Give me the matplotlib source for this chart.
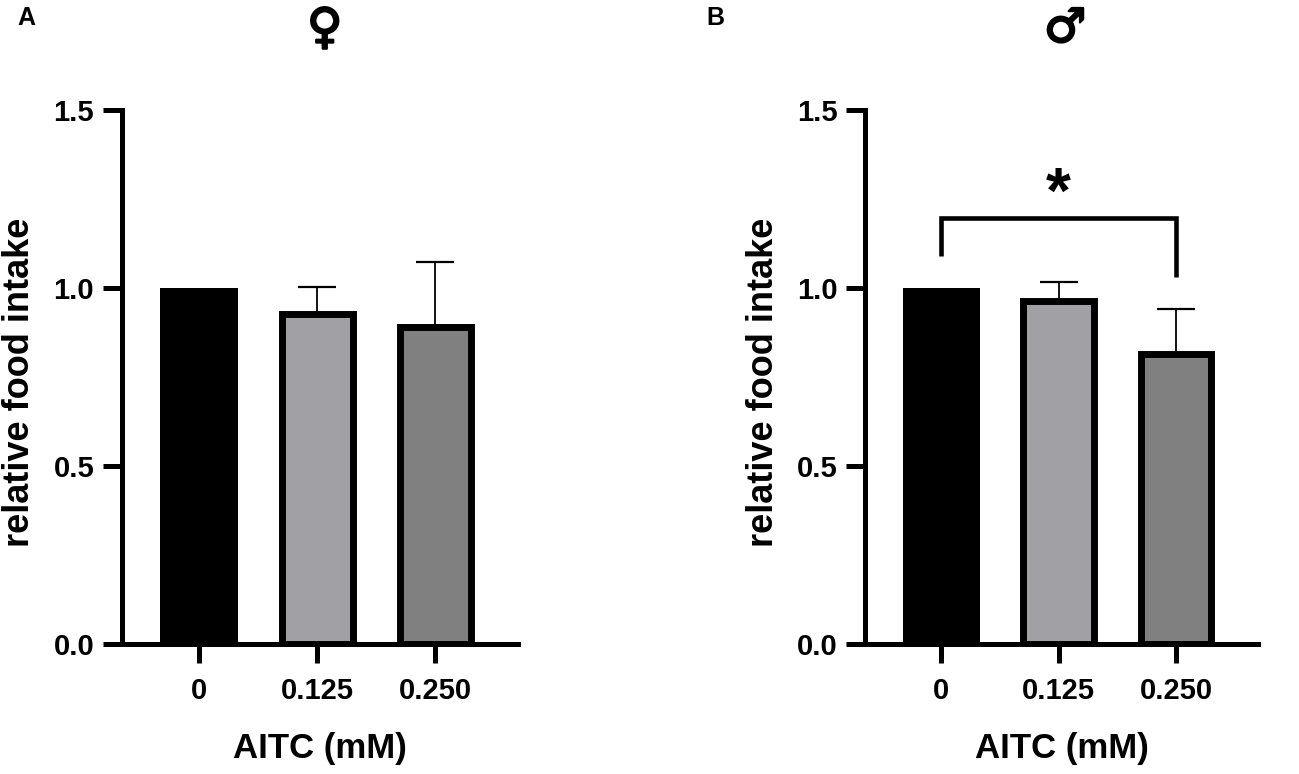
import numpy as np
import matplotlib
matplotlib.use('Agg')
import matplotlib.pyplot as plt
import matplotlib.patheffects as pe

plt.rcParams['font.family'] = ['Liberation Sans', 'DejaVu Sans']
plt.rcParams['font.weight'] = 'bold'

# data
doses = ['0', '0.125', '0.250']
female_mean = [1.0, 0.928, 0.891]
female_sem = [0.0, 0.076, 0.183]
male_mean = [1.0, 0.963, 0.814]
male_sem = [0.0, 0.055, 0.127]
bar_colors = ['#000000', '#a1a1a5', '#808080']
yticks = [0.0, 0.5, 1.0, 1.5]

LW = 3.6  # axis line width (pt)

fig = plt.figure(figsize=(12.99, 7.74), dpi=100)
axA = fig.add_axes([0.0939, 0.168, 0.3049, 0.690])
axB = fig.add_axes([0.666, 0.168, 0.3025, 0.690])


def draw_panel(ax, means, sems):
    x = np.arange(len(means))
    means = np.asarray(means)
    sems = np.asarray(sems)
    has_err = sems > 0
    # error bars (upper only), drawn behind bars
    ax.errorbar(x[has_err], means[has_err],
                yerr=[np.zeros(has_err.sum()), sems[has_err]], fmt='none',
                ecolor='black', elinewidth=1.3, capsize=13.5, capthick=1.6, zorder=1)
    widths = [0.66, 0.6, 0.6]
    lws = [0, 5, 5]
    for xi, m, c, w, lw in zip(x, means, bar_colors, widths, lws):
        ax.bar(xi, m, width=w, color=c, edgecolor='black', linewidth=lw, zorder=2)
    ax.set_xlim(-0.65, 2.7)
    ax.set_ylim(0, 1.5)
    ax.set_xticks(x)
    ax.set_xticklabels(doses)
    ax.set_yticks(yticks)
    ax.set_yticklabels([f'{v:.1f}' for v in yticks])
    for s in ['top', 'right']:
        ax.spines[s].set_visible(False)
    for s in ['left', 'bottom']:
        ax.spines[s].set_linewidth(LW)
        ax.spines[s].set_zorder(3)
    ax.tick_params(axis='both', length=14, width=LW, labelsize=21)
    ax.tick_params(axis='y', pad=6)
    ax.tick_params(axis='x', pad=10)
    for lab in ax.get_xticklabels() + ax.get_yticklabels():
        lab.set_fontweight('bold')
    ax.set_ylabel('relative food intake', fontsize=26, fontweight='bold')
    ax.set_xlabel('AITC (mM)', fontsize=25, fontweight='bold')
    ax.yaxis.set_label_coords(-0.215, 0.49)
    ax.xaxis.set_label_coords(0.5, -0.165)


draw_panel(axA, female_mean, female_sem)
draw_panel(axB, male_mean, male_sem)

# significance bracket in panel B
axB.plot([0, 0, 2, 2], [1.09, 1.197, 1.197, 1.03], color='black', lw=3.3,
         solid_joinstyle='miter', solid_capstyle='butt', clip_on=False)
axB.text(1, 1.26, '*', ha='center', va='center', fontsize=46, fontweight='bold')

# sex symbols
stroke = [pe.withStroke(linewidth=1.5, foreground='black')]
fig.text(0.250, 0.963, '\u2640', ha='center', va='center', fontsize=35,
         family=['DejaVu Sans'], path_effects=stroke)
fig.text(0.820, 0.962, '\u2642', ha='center', va='center', fontsize=34,
         family=['DejaVu Sans'], path_effects=stroke)

# panel letters
fig.text(0.013, 0.992, 'A', ha='left', va='top', fontsize=18, fontweight='bold')
fig.text(0.544, 0.992, 'B', ha='left', va='top', fontsize=18, fontweight='bold')

fig.savefig('out.png', dpi=100)
